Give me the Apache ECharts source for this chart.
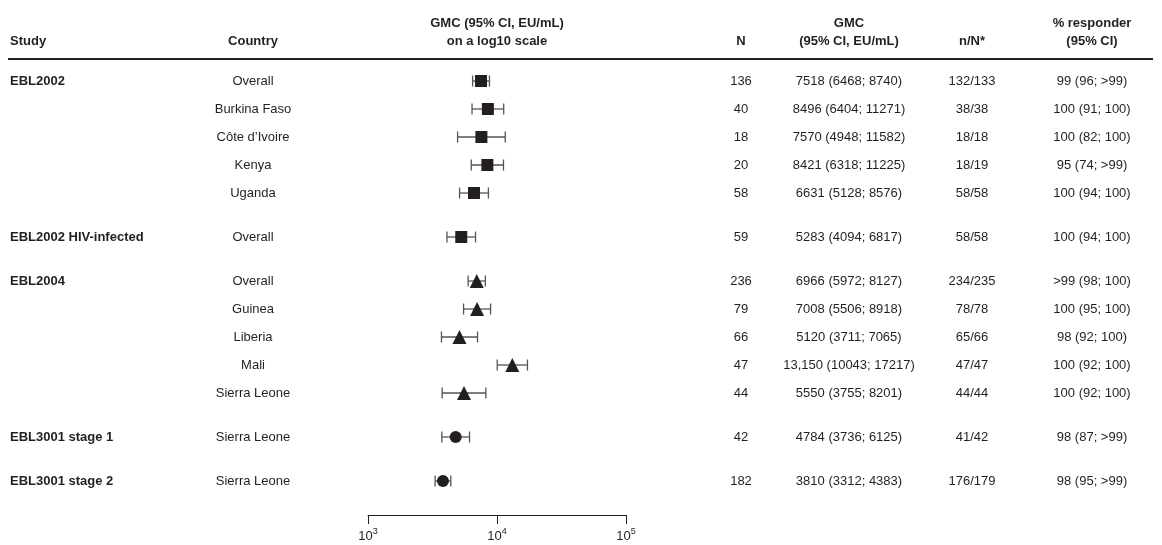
<!DOCTYPE html>
<html>
<head>
<meta charset="utf-8">
<script src="https://cdn.jsdelivr.net/npm/echarts@6/dist/echarts.min.js"></script>
<style>
html,body{margin:0;padding:0;background:#fff;}
#chart{width:1162px;height:545px;}
</style>
</head>
<body>
<div id="chart"></div>
<script>
// ---- data ----
const studies = ['EBL2002','','','','','EBL2002 HIV-infected','EBL2004','','','','','EBL3001 stage 1','EBL3001 stage 2'];
const countries = ['Overall','Burkina Faso','Côte d\u2019Ivoire','Kenya','Uganda','Overall','Overall','Guinea','Liberia','Mali','Sierra Leone','Sierra Leone','Sierra Leone'];
const groupIndex = [0,0,0,0,0,1,2,2,2,2,2,3,4];
const groupSymbols = ['rect','rect','triangle','circle','circle'];
const nValues = [136,40,18,20,58,59,236,79,66,47,44,42,182];
const gmcValues = [7518,8496,7570,8421,6631,5283,6966,7008,5120,13150,5550,4784,3810];
const ciLow = [6468,6404,4948,6318,5128,4094,5972,5506,3711,10043,3755,3736,3312];
const ciHigh = [8740,11271,11582,11225,8576,6817,8127,8918,7065,17217,8201,6125,4383];
const gmcLabels = ['7518 (6468; 8740)','8496 (6404; 11271)','7570 (4948; 11582)','8421 (6318; 11225)','6631 (5128; 8576)','5283 (4094; 6817)','6966 (5972; 8127)','7008 (5506; 8918)','5120 (3711; 7065)','13,150 (10043; 17217)','5550 (3755; 8201)','4784 (3736; 6125)','3810 (3312; 4383)'];
const nNLabels = ['132/133','38/38','18/18','18/19','58/58','58/58','234/235','78/78','65/66','47/47','44/44','41/42','176/179'];
const responderLabels = ['99 (96; >99)','100 (91; 100)','100 (82; 100)','95 (74; >99)','100 (94; 100)','100 (94; 100)','>99 (98; 100)','100 (95; 100)','98 (92; 100)','100 (92; 100)','100 (92; 100)','98 (87; >99)','98 (95; >99)'];
const tickValues = [1000, 10000, 100000];
const tickExponents = ['3','4','5'];
const headers = {
  study: ['Study'],
  country: ['Country'],
  plot: ['GMC (95% CI, EU/mL)', 'on a log10 scale'],
  n: ['N'],
  gmc: ['GMC', '(95% CI, EU/mL)'],
  nN: ['n/N*'],
  resp: ['% responder', '(95% CI)']
};

// ---- layout ----
const FONT = '"Liberation Sans", Arial, Helvetica, sans-serif';
const INK = '#231f20';
const GAP = 0.5714;          // extra space between study groups, in rows
const TOP = 67, ROWH = 28;
const YMIN = -0.5, YMAX = 15.5;
const COL = {study: 10, country: 253, plot: 497, n: 741, gmc: 849, nN: 972, resp: 1092};
const rowPos = groupIndex.map((g, i) => i + g * GAP);

const textData = rowPos.map((p, i) => [0, p, i]);
const barData = rowPos.map((p, i) => [ciLow[i], ciHigh[i], p]);
const pointData = rowPos.map((p, i) => ({value: [gmcValues[i], p], symbol: groupSymbols[groupIndex[i]],
  symbolSize: groupSymbols[groupIndex[i]] === 'triangle' ? 14 : 12}));

function txt(text, x, y, align, bold) {
  return {type: 'text', style: {text: text, x: x, y: y, fill: INK, align: align, verticalAlign: 'middle',
    font: (bold ? 'bold ' : '') + '13px ' + FONT}};
}

const headerGraphics = [];
function addHeader(lines, x, align) {
  const y0 = lines.length === 2 ? 23 : 41;
  lines.forEach((t, k) => headerGraphics.push({type: 'text', x: x, y: y0 + k * 18,
    style: {text: t, fill: INK, font: 'bold 13px ' + FONT, align: align, verticalAlign: 'middle'}}));
}
addHeader(headers.study, COL.study, 'left');
addHeader(headers.country, COL.country, 'center');
addHeader(headers.plot, COL.plot, 'center');
addHeader(headers.n, COL.n, 'center');
addHeader(headers.gmc, COL.gmc, 'center');
addHeader(headers.nN, COL.nN, 'center');
addHeader(headers.resp, COL.resp, 'center');
headerGraphics.push({type: 'line', shape: {x1: 8, y1: 59, x2: 1153, y2: 59}, style: {stroke: INK, lineWidth: 2}});

const chart = echarts.init(document.getElementById('chart'), null, {renderer: 'canvas'});
chart.setOption({
  animation: false,
  backgroundColor: '#ffffff',
  graphic: headerGraphics,
  grid: [
    {left: 0, width: 1162, top: TOP, height: (YMAX - YMIN) * ROWH},
    {left: 368, width: 258, top: TOP, height: (YMAX - YMIN) * ROWH}
  ],
  xAxis: [
    {gridIndex: 0, type: 'value', min: 0, max: 1162, show: false},
    {gridIndex: 1, type: 'log', logBase: 10, position: 'bottom',
      min: tickValues[0], max: tickValues[tickValues.length - 1],
      axisLine: {show: true, onZero: false, lineStyle: {color: INK, width: 1}},
      axisTick: {show: true, length: 9, lineStyle: {color: INK, width: 1}},
      minorTick: {show: false}, splitLine: {show: false},
      axisLabel: {margin: 12, color: INK, fontFamily: FONT,
        formatter: function (v) { const k = tickValues.indexOf(v); return '{b|10}{s|' + (k >= 0 ? tickExponents[k] : '') + '}'; },
        rich: {b: {fontSize: 13, fontFamily: FONT, color: INK, lineHeight: 16, verticalAlign: 'bottom'},
               s: {fontSize: 9, fontFamily: FONT, color: INK, lineHeight: 16, verticalAlign: 'top', padding: [0, 0, 7, 0]}}}
    }
  ],
  yAxis: [
    {gridIndex: 0, type: 'value', min: YMIN, max: YMAX, inverse: true, show: false},
    {gridIndex: 1, type: 'value', min: YMIN, max: YMAX, inverse: true, show: false}
  ],
  series: [
    {
      type: 'custom', xAxisIndex: 0, yAxisIndex: 0, data: textData, silent: true,
      renderItem: function (params, api) {
        const i = api.value(2);
        const y = api.coord([0, api.value(1)])[1];
        return {type: 'group', children: [
          txt(studies[i], COL.study, y, 'left', true),
          txt(countries[i], COL.country, y, 'center', false),
          txt(String(nValues[i]), COL.n, y, 'center', false),
          txt(gmcLabels[i], COL.gmc, y, 'center', false),
          txt(nNLabels[i], COL.nN, y, 'center', false),
          txt(responderLabels[i], COL.resp, y, 'center', false)
        ]};
      }
    },
    {
      type: 'custom', xAxisIndex: 1, yAxisIndex: 1, data: barData, silent: true, z: 2,
      renderItem: function (params, api) {
        const a = api.coord([api.value(0), api.value(2)]);
        const b = api.coord([api.value(1), api.value(2)]);
        const st = {stroke: '#555555', lineWidth: 1.3};
        const h = 5.5;
        return {type: 'group', children: [
          {type: 'line', shape: {x1: a[0], y1: a[1], x2: b[0], y2: b[1]}, style: st},
          {type: 'line', shape: {x1: a[0], y1: a[1] - h, x2: a[0], y2: a[1] + h}, style: st},
          {type: 'line', shape: {x1: b[0], y1: b[1] - h, x2: b[0], y2: b[1] + h}, style: st}
        ]};
      }
    },
    {
      type: 'scatter', xAxisIndex: 1, yAxisIndex: 1, data: pointData, z: 3, silent: true,
      itemStyle: {color: INK, opacity: 1}
    }
  ]
});
</script>
</body>
</html>
